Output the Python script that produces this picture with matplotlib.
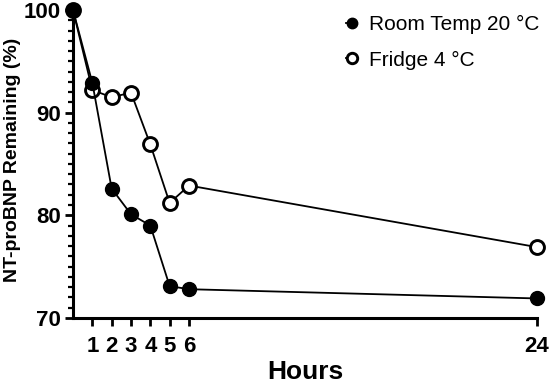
import numpy as np
import matplotlib
matplotlib.use("Agg")
import matplotlib.pyplot as plt
from matplotlib.ticker import MultipleLocator

plt.rcParams["font.family"] = ["Liberation Sans", "DejaVu Sans"]

# data
hours = [0, 1, 2, 3, 4, 5, 6, 24]
room_temp = [100, 92.9, 82.6, 80.1, 79.0, 73.1, 72.8, 71.9]
fridge = [100, 92.2, 91.5, 91.95, 86.9, 81.2, 82.9, 76.9]
xticks = [1, 2, 3, 4, 5, 6, 24]
yticks = [70, 80, 90, 100]

fig = plt.figure(figsize=(5.51, 3.84), dpi=100)
ax = fig.add_axes([0.1325, 0.172, 0.842, 0.802])

ax.plot(hours, fridge, color="black", lw=1.3, marker="o", ms=10,
        mfc="white", mec="black", mew=2.1, clip_on=False, zorder=3,
        label="Fridge 4 °C")
ax.plot(hours, room_temp, color="black", lw=1.3, marker="o", ms=10,
        mfc="black", mec="black", clip_on=False, zorder=4,
        label="Room Temp 20 °C")

ax.set_xlim(0, 24)
ax.set_ylim(70, 100)
ax.set_xticks(xticks)
ax.set_yticks(yticks)
ax.yaxis.set_minor_locator(MultipleLocator(1))

for s in ["top", "right"]:
    ax.spines[s].set_visible(False)
for s in ["left", "bottom"]:
    ax.spines[s].set_linewidth(2.2)

ax.tick_params(axis="both", which="major", length=6, width=2.0,
               labelsize=16)
ax.tick_params(axis="x", pad=7)
ax.tick_params(axis="y", pad=3)
ax.tick_params(axis="y", which="minor", length=3.5, width=1.6)
for lab in ax.get_xticklabels() + ax.get_yticklabels():
    lab.set_fontweight("bold")

ax.set_xlabel("Hours", fontsize=19, fontweight="bold")
ax.xaxis.set_label_coords(0.5, -0.136)
ax.set_ylabel("NT-proBNP Remaining (%)", fontsize=14, fontweight="bold")
ax.yaxis.set_label_coords(-0.112, 0.513)

h, l = ax.get_legend_handles_labels()
leg = ax.legend(h[::-1], l[::-1], loc="upper left", frameon=False,
                fontsize=15, handlelength=0.55, handletextpad=0.55,
                labelspacing=0.8, markerscale=0.75,
                bbox_to_anchor=(0.548, 1.045))

fig.savefig("out.png", dpi=100)
